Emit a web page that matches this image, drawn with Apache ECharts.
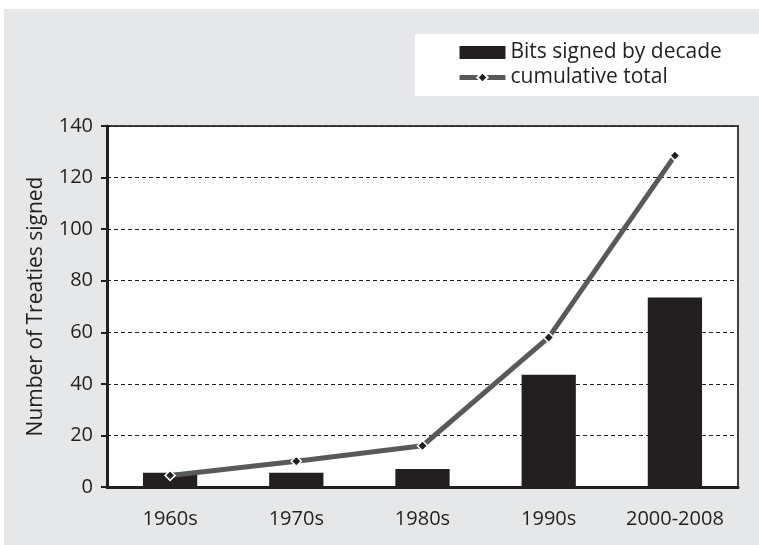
<!DOCTYPE html>
<html>
<head>
<meta charset="utf-8">
<script src="https://cdn.jsdelivr.net/npm/echarts@6/dist/echarts.min.js"></script>
<style>
  html, body { margin: 0; padding: 0; background: #ffffff; }
  #chart { width: 759px; height: 545px; }
</style>
</head>
<body>
<div id="chart"></div>
<script>
// decades along the x axis
var decades = ['1960s', '1970s', '1980s', '1990s', '2000-2008'];
// treaties signed in each decade (bars)
var bitsByDecade = [5.5, 5.5, 7, 43.5, 73.5];
// running total (line)
var cumulativeTotal = [4.5, 10, 16, 58, 128.5];
// y axis range
var yMin = 0, yMax = 140, yStep = 20;

var fontFamily = '"Open Sans", "Noto Sans", sans-serif';
var ink = '#231f20';

var chart = echarts.init(document.getElementById('chart'));

var option = {
  animation: false,
  textStyle: { fontFamily: fontFamily },
  graphic: [
    // gray page panel
    { type: 'rect', z: -20, silent: true, shape: { x: 4, y: 9, width: 755, height: 536 }, style: { fill: '#e6e7e8' } },
    // white legend panel
    { type: 'rect', z: -19, silent: true, shape: { x: 415, y: 34, width: 344, height: 62 }, style: { fill: '#ffffff' } }
  ],
  legend: {
    orient: 'vertical',
    left: 457,
    top: 42,
    padding: 0,
    itemGap: 4,
    itemWidth: 46,
    itemHeight: 13,
    textStyle: { fontSize: 21, color: ink, fontFamily: fontFamily },
    data: [
      { name: 'Bits signed by decade', icon: 'rect' },
      { name: 'cumulative total', lineStyle: { width: 5, color: '#58595b' } }
    ]
  },
  grid: {
    left: 107,
    right: 21,
    top: 126,
    bottom: 58,
    show: true,
    backgroundColor: '#ffffff',
    borderColor: '#414042',
    borderWidth: 2
  },
  xAxis: {
    type: 'category',
    data: decades,
    axisLine: { lineStyle: { color: ink, width: 3 } },
    axisTick: { show: false },
    axisLabel: { fontSize: 20, color: ink, margin: 22, interval: 0 }
  },
  yAxis: {
    type: 'value',
    min: yMin,
    max: yMax,
    interval: yStep,
    name: 'Number of Treaties signed',
    nameLocation: 'middle',
    nameGap: 60,
    nameTextStyle: { fontSize: 21, color: ink },
    axisLine: { show: true, lineStyle: { color: ink, width: 3 } },
    axisTick: { show: true, length: 6, lineStyle: { color: ink, width: 2 } },
    axisLabel: { fontSize: 20, color: ink, margin: 14 },
    splitLine: { show: true, lineStyle: { color: ink, width: 1, type: [4, 3] } }
  },
  series: [
    {
      name: 'Bits signed by decade',
      type: 'bar',
      data: bitsByDecade,
      barWidth: '43%',
      itemStyle: { color: ink }
    },
    {
      name: 'cumulative total',
      type: 'line',
      data: cumulativeTotal,
      symbol: 'diamond',
      symbolSize: 10,
      z: 5,
      lineStyle: { color: '#58595b', width: 5 },
      itemStyle: { color: ink, borderColor: '#ffffff', borderWidth: 1.5 }
    }
  ]
};

chart.setOption(option);
</script>
</body>
</html>
